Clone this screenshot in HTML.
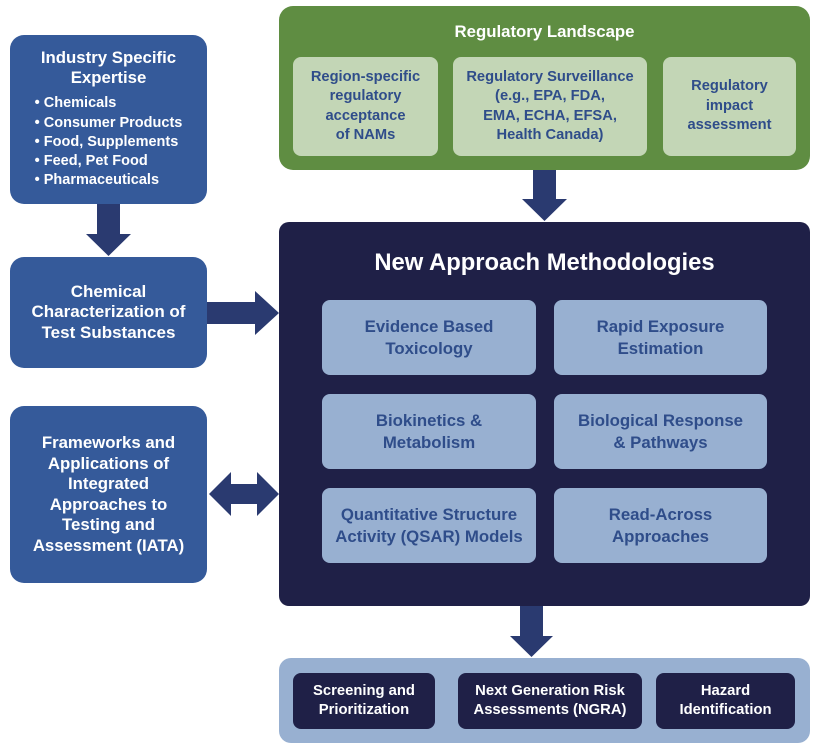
<!DOCTYPE html>
<html><head><style>
body{margin:0;width:819px;height:751px;background:#fff;position:relative;font-family:"Liberation Sans",sans-serif;font-weight:bold;overflow:hidden}
.b{position:absolute;display:flex;align-items:center;justify-content:center;text-align:center;box-sizing:border-box}
.blue{background:#355a9a;color:#fff;border-radius:14px}
.lg{background:#c3d6b6;color:#2f4d8a;border-radius:8px;font-size:14.7px;line-height:19.5px}
.lb{background:#98b0d1;color:#2f4d8a;border-radius:8px;font-size:16.8px;line-height:22px}
.nv{background:#1f2047;color:#fff;border-radius:8px;font-size:14.8px;line-height:19px}
</style></head><body>
<div class="b blue" style="left:10px;top:35px;width:197px;height:169px;flex-direction:column;font-size:16.8px;line-height:20px">
<div>Industry Specific<br>Expertise</div>
<div style="text-align:left;font-size:14.5px;line-height:19.3px;margin-top:6px">• Chemicals<br>• Consumer Products<br>• Food, Supplements<br>• Feed, Pet Food<br>• Pharmaceuticals</div></div>
<div class="b blue" style="left:10px;top:257px;width:197px;height:111px;font-size:17px;line-height:20.5px">Chemical<br>Characterization of<br>Test Substances</div>
<div class="b blue" style="left:10px;top:406px;width:197px;height:177px;font-size:16.8px;line-height:20.5px">Frameworks and<br>Applications of<br>Integrated<br>Approaches to<br>Testing and<br>Assessment (IATA)</div>
<div class="b" style="left:279px;top:6px;width:531px;height:164px;background:#5f8d42;border-radius:14px"></div>
<div class="b" style="left:279px;top:20px;width:531px;height:24px;color:#fff;font-size:16.8px">Regulatory Landscape</div>
<div class="b lg" style="left:293px;top:57px;width:145px;height:99px">Region-specific<br>regulatory<br>acceptance<br>of NAMs</div>
<div class="b lg" style="left:453px;top:57px;width:194px;height:99px">Regulatory Surveillance<br>(e.g., EPA, FDA,<br>EMA, ECHA, EFSA,<br>Health Canada)</div>
<div class="b lg" style="left:663px;top:57px;width:133px;height:99px">Regulatory<br>impact<br>assessment</div>
<div class="b" style="left:279px;top:222px;width:531px;height:384px;background:#1f2047;border-radius:10px"></div>
<div class="b" style="left:279px;top:248px;width:531px;height:30px;color:#fff;font-size:23.8px">New Approach Methodologies</div>
<div class="b lb" style="left:322px;top:300px;width:214px;height:75px">Evidence Based<br>Toxicology</div>
<div class="b lb" style="left:554px;top:300px;width:213px;height:75px">Rapid Exposure<br>Estimation</div>
<div class="b lb" style="left:322px;top:394px;width:214px;height:75px">Biokinetics &amp;<br>Metabolism</div>
<div class="b lb" style="left:554px;top:394px;width:213px;height:75px">Biological Response<br>&amp; Pathways</div>
<div class="b lb" style="left:322px;top:488px;width:214px;height:75px">Quantitative Structure<br>Activity (QSAR) Models</div>
<div class="b lb" style="left:554px;top:488px;width:213px;height:75px">Read-Across<br>Approaches</div>
<div class="b" style="left:279px;top:658px;width:531px;height:85px;background:#98b0d1;border-radius:12px"></div>
<div class="b nv" style="left:293px;top:673px;width:142px;height:56px">Screening and<br>Prioritization</div>
<div class="b nv" style="left:458px;top:673px;width:184px;height:56px">Next Generation Risk<br>Assessments (NGRA)</div>
<div class="b nv" style="left:656px;top:673px;width:139px;height:56px">Hazard<br>Identification</div>
<svg width="819" height="751" style="position:absolute;left:0;top:0">
<g fill="#2a3a70">
<polygon points="97,204 120,204 120,234 131,234 108.5,256 86,234 97,234"/>
<polygon points="207,302 255,302 255,291 279,313 255,335 255,324 207,324"/>
<polygon points="209,494 231,472 231,484 257,484 257,472 279,494 257,516 257,504 231,504 231,516"/>
<polygon points="533,170 556,170 556,199 567,199 544.5,221 522,199 533,199"/>
<polygon points="520,606 543,606 543,636 553,636 531.5,657 510,636 520,636"/>
</g></svg>
</body></html>
